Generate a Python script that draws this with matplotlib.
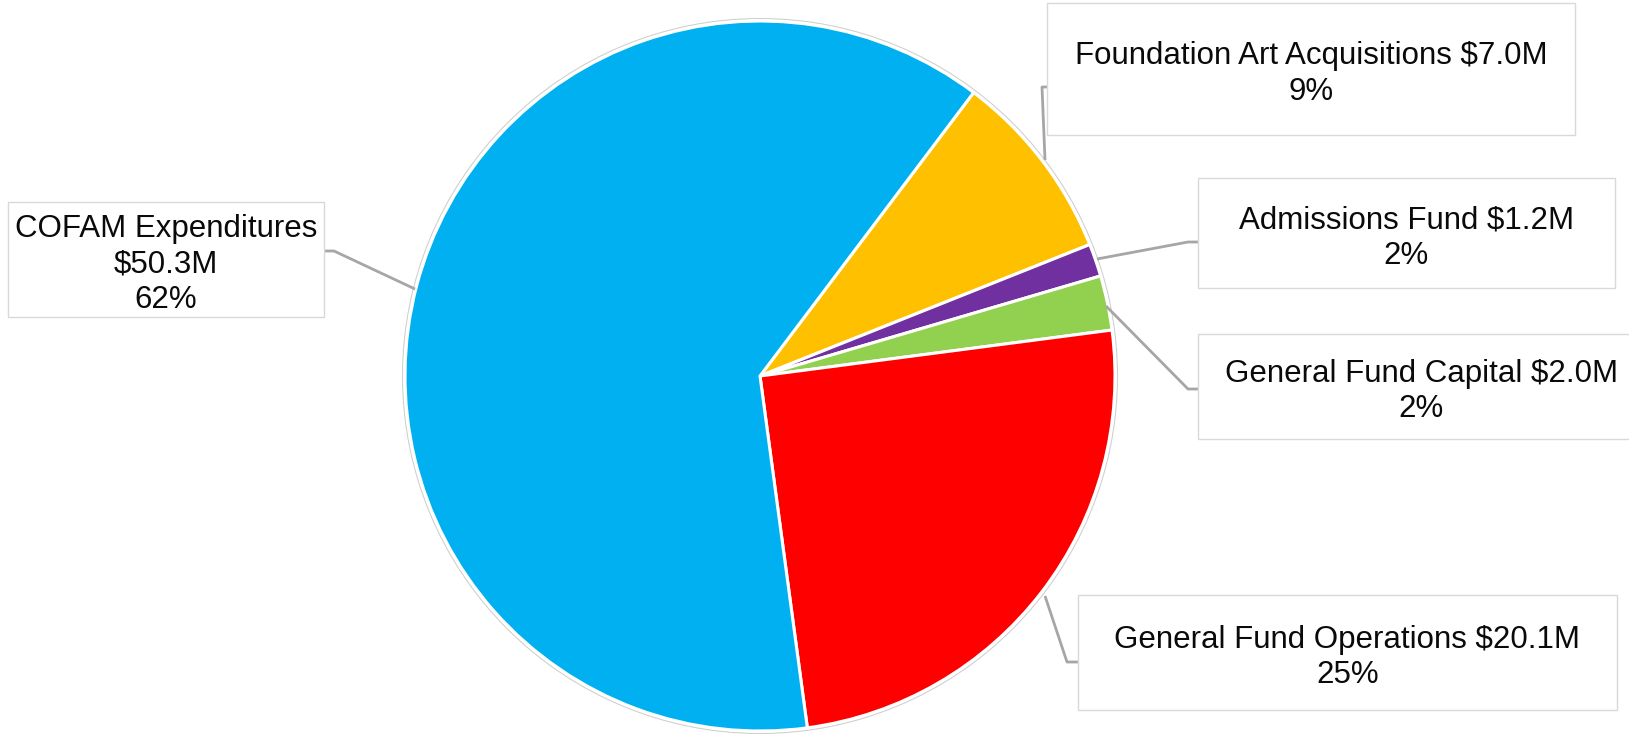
import matplotlib
matplotlib.use("Agg")
import matplotlib.pyplot as plt
from matplotlib.patches import Rectangle, Circle

# ---- data ----
categories = ["Foundation Art Acquisitions", "Admissions Fund", "General Fund Capital",
              "General Fund Operations", "COFAM Expenditures"]
values = [7.0, 1.2, 2.0, 20.1, 50.3]          # $M
pct_labels = [9, 2, 2, 25, 62]                 # % as shown
colors = ["#FFC000", "#7030A0", "#92D050", "#FF0000", "#00B0F0"]

W, H = 1629, 734
plt.rcParams['font.family'] = ['Liberation Sans', 'DejaVu Sans']
fig = plt.figure(figsize=(W / 100, H / 100), dpi=100)
ax = fig.add_axes([0, 0, 1, 1])

def Y(y):  # convert top-down pixel y to axis y
    return H - y

cx, cy, r = 760, 376, 355
# faint outline
ax.add_patch(Circle((cx, Y(cy)), r + 2.5, facecolor="none", edgecolor="#D0D0D0", lw=0.8, zorder=0))
ax.pie(values, colors=colors, startangle=53, counterclock=False,
       center=(cx, Y(cy)), radius=r,
       wedgeprops=dict(edgecolor="white", linewidth=2.2), frame=False)

# label boxes: (x0, y0, x1, y1) in pixel coordinates (top-down)
boxes = [
    (1047, 3, 1575, 135),
    (1198, 178, 1615, 288),
    (1198, 334, 1645, 439),
    (1078, 595, 1617, 710),
    (8, 202, 324, 317),
]
# leader lines (pixel coords, top-down)
leaders = [
    [(1045, 160), (1042, 87), (1047, 87)],
    [(1097, 259), (1188, 242), (1198, 242)],
    [(1106, 306), (1188, 389), (1198, 389)],
    [(1045, 596), (1067, 662), (1078, 662)],
    [(415, 289), (334, 251), (324, 251)],
]

lead_col = "#A6A6A6"
for pts in leaders:
    xs = [p[0] for p in pts]
    ys = [Y(p[1]) for p in pts]
    ax.plot(xs, ys, color=lead_col, lw=2.0, solid_capstyle="butt", zorder=3)

for i, (name, v, p) in enumerate(zip(categories, values, pct_labels)):
    x0, y0, x1, y1 = boxes[i]
    ax.add_patch(Rectangle((x0, Y(y1)), x1 - x0, y1 - y0, facecolor="white",
                           edgecolor="#D9D9D9", lw=1.0, zorder=4))
    if name == "COFAM Expenditures":
        label = f"{name}\n${v:.1f}M\n{p}%"
    else:
        label = f"{name} ${v:.1f}M\n{p}%"
    ax.text((x0 + x1) / 2, Y((y0 + y1) / 2 + 5), label, ha="center", va="center",
            fontsize=22.5, color="#0A0A0A", linespacing=1.26, zorder=5)

ax.set_xlim(0, W)
ax.set_ylim(0, H)
ax.set_aspect("equal")
ax.axis("off")
fig.savefig("out.png", dpi=100, facecolor="white")
